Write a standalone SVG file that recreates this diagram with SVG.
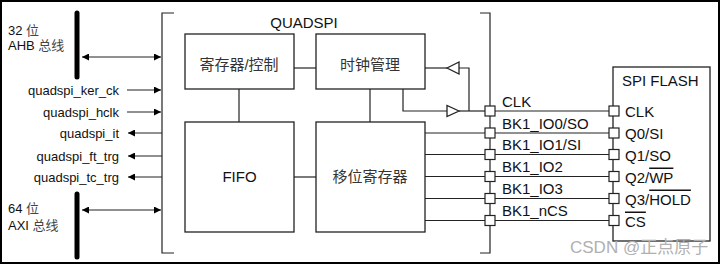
<svg xmlns="http://www.w3.org/2000/svg" width="721" height="265" viewBox="0 0 721 265">
<style>
.ln{stroke:#222;stroke-width:1.2;fill:none}
.bx{stroke:#222;stroke-width:1.3;fill:#fff}
.pad{stroke:#222;stroke-width:1.2;fill:#fff}
.bus{stroke:#000;stroke-width:5;stroke-linecap:round}
.t{font-family:"Liberation Sans","Noto Sans CJK SC",sans-serif;fill:#111}
.s13{font-size:13px}
.s15{font-size:15px}
.cjk{font-family:"Liberation Sans","Noto Sans CJK SC",sans-serif;fill:#333;font-size:15px}
.ov{text-decoration:overline}
</style>
<defs>
<marker id="ah" viewBox="0 0 10 10" refX="10" refY="5" markerWidth="7" markerHeight="7" markerUnits="userSpaceOnUse" orient="auto-start-reverse">
<path d="M0,0 L10,5 L0,10 z" fill="#000"/>
</marker>
</defs>
<rect x="1" y="1" width="718" height="262" fill="#fff" stroke="#000" stroke-width="2"/>

<g id="ahb-bus">
<line class="bus" x1="77" y1="13" x2="77" y2="77"/>
<text class="t s13" x="8" y="35">32 <tspan fill="#444">位</tspan></text>
<text class="t s13" x="8" y="50">AHB <tspan fill="#444">总线</tspan></text>
</g>
<g id="axi-bus">
<line class="bus" x1="77" y1="194" x2="77" y2="257"/>
<text class="t s13" x="8" y="213">64 <tspan fill="#444">位</tspan></text>
<text class="t s13" x="8" y="230">AXI <tspan fill="#444">总线</tspan></text>
</g>

<g id="signals" class="t s13" text-anchor="end">
<text x="119" y="95">quadspi_ker_ck</text>
<text x="119" y="117">quadspi_hclk</text>
<text x="119" y="138">quadspi_it</text>
<text x="119" y="161">quadspi_ft_trg</text>
<text x="119" y="182">quadspi_tc_trg</text>
</g>

<g id="quadspi">
<path class="ln" d="M174,13 H162 V253 H174"/>
<path class="ln" d="M480,13 H490 V253 H480"/>
<text class="t s15" x="304" y="28" text-anchor="middle">QUADSPI</text>
</g>

<g id="reg-ctrl">
<rect class="bx" x="185" y="34" width="109" height="55"/>
<text class="cjk" x="239" y="69.5" text-anchor="middle">寄存器/控制</text>
</g>
<g id="clk-mgmt">
<rect class="bx" x="316" y="34" width="109" height="55"/>
<text class="cjk" x="370" y="69.5" text-anchor="middle">时钟管理</text>
</g>
<g id="fifo">
<rect class="bx" x="185" y="122" width="109" height="110"/>
<text class="t s15" x="239.5" y="182" text-anchor="middle">FIFO</text>
</g>
<g id="shift-reg">
<rect class="bx" x="316" y="122" width="109" height="110"/>
<text class="cjk" x="370" y="182" text-anchor="middle">移位寄存器</text>
</g>

<g id="spi-flash">
<rect class="bx" x="613" y="67" width="97" height="174"/>
<text class="t s15" x="622" y="86">SPI FLASH</text>
<g class="t s15">
<text x="625" y="117">CLK</text>
<text x="625" y="139">Q0/SI</text>
<text x="625" y="160.5">Q1/SO</text>
<text x="625" y="182.5">Q2/<tspan class="ov">WP</tspan></text>
<text x="625" y="204.5">Q3/<tspan class="ov">HOLD</tspan></text>
<text x="625" y="226.5"><tspan class="ov">CS</tspan></text>
</g>
</g>

<g id="connectors">
<line class="ln" x1="82" y1="57" x2="161" y2="57" marker-start="url(#ah)" marker-end="url(#ah)"/>
<line class="ln" x1="82" y1="210" x2="161" y2="210" marker-start="url(#ah)" marker-end="url(#ah)"/>
<line class="ln" x1="127" y1="90" x2="161" y2="90" marker-end="url(#ah)"/>
<line class="ln" x1="127" y1="112" x2="161" y2="112" marker-end="url(#ah)"/>
<line class="ln" x1="162" y1="133" x2="128" y2="133" marker-end="url(#ah)"/>
<line class="ln" x1="162" y1="156" x2="128" y2="156" marker-end="url(#ah)"/>
<line class="ln" x1="162" y1="177" x2="128" y2="177" marker-end="url(#ah)"/>

<line class="ln" x1="294" y1="68" x2="316" y2="68"/>
<line class="ln" x1="294" y1="177" x2="316" y2="177"/>
<line class="ln" x1="239" y1="89" x2="239" y2="122"/>
<line class="ln" x1="370" y1="89" x2="370" y2="122"/>

<path class="ln" d="M425,68 H447"/>
<path class="bx" d="M447,68 L459,62 L459,74 z"/>
<path class="ln" d="M459,68 H469 V111"/>
<path class="ln" d="M403,89 V111 H447"/>
<path class="bx" d="M459,111 L447,105.5 L447,116.5 z"/>
<path class="ln" d="M459,111 H485"/>

<line class="ln" x1="425" y1="133" x2="485" y2="133"/>
<line class="ln" x1="425" y1="154.5" x2="485" y2="154.5"/>
<line class="ln" x1="425" y1="176.5" x2="485" y2="176.5"/>
<line class="ln" x1="425" y1="198.5" x2="485" y2="198.5"/>
<line class="ln" x1="425" y1="220.5" x2="485" y2="220.5"/>

<line class="ln" x1="495" y1="111" x2="609" y2="111"/>
<line class="ln" x1="495" y1="133" x2="609" y2="133"/>
<line class="ln" x1="495" y1="154.5" x2="609" y2="154.5"/>
<line class="ln" x1="495" y1="176.5" x2="609" y2="176.5"/>
<line class="ln" x1="495" y1="198.5" x2="609" y2="198.5"/>
<line class="ln" x1="495" y1="220.5" x2="609" y2="220.5"/>
</g>

<g id="pads">
<rect class="pad" x="485" y="106" width="10" height="10"/>
<rect class="pad" x="485" y="128" width="10" height="10"/>
<rect class="pad" x="485" y="149.5" width="10" height="10"/>
<rect class="pad" x="485" y="171.5" width="10" height="10"/>
<rect class="pad" x="485" y="193.5" width="10" height="10"/>
<rect class="pad" x="485" y="215.5" width="10" height="10"/>
<rect class="pad" x="609" y="106" width="10" height="10"/>
<rect class="pad" x="609" y="128" width="10" height="10"/>
<rect class="pad" x="609" y="149.5" width="10" height="10"/>
<rect class="pad" x="609" y="171.5" width="10" height="10"/>
<rect class="pad" x="609" y="193.5" width="10" height="10"/>
<rect class="pad" x="609" y="215.5" width="10" height="10"/>
</g>

<g id="pad-labels" class="t s15">
<text x="502" y="106.5">CLK</text>
<text x="502" y="128.5">BK1_IO0/SO</text>
<text x="502" y="150">BK1_IO1/SI</text>
<text x="502" y="172">BK1_IO2</text>
<text x="502" y="194">BK1_IO3</text>
<text x="502" y="216">BK1_nCS</text>
</g>

<text x="570" y="253" font-family="Liberation Sans,Noto Sans CJK SC,sans-serif" font-size="17" fill="#b0b0b0">CSDN @正点原子</text>
</svg>
